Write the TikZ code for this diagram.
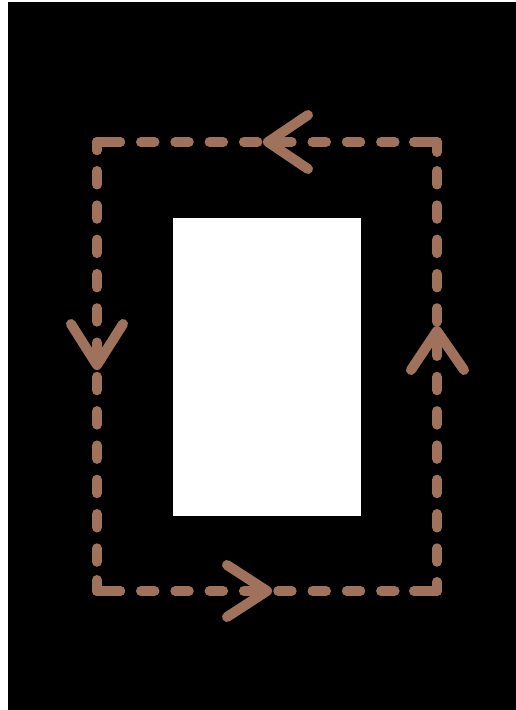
\documentclass[tikz,border=0pt]{standalone}
\definecolor{flow}{RGB}{160,114,92}
\begin{document}
\begin{tikzpicture}[x=1pt,y=-1pt,
  flowline/.style={draw=flow, line width=10pt, line cap=round, line join=round},
  hside/.style={flowline, dash pattern=on 13.5pt off 20.8pt, dash phase=24.6pt},
  vside/.style={flowline, dash pattern=on 13.5pt off 20.8pt, dash phase=5.3pt}]
\useasboundingbox (0,0) rectangle (516,710);
\fill[white] (0,0) rectangle (516,710);
\fill[black] (8,2) rectangle (516,710);
\fill[white] (173,218) rectangle (361,516);
% corners of the loop
\coordinate (TL) at (97,142);
\coordinate (TR) at (437,142);
\coordinate (BR) at (437,591);
\coordinate (BL) at (97,591);
% dashed sides
\draw[hside] (TL) -- (TR);
\draw[hside] (BL) -- (BR);
\draw[vside] (TL) -- (BL);
\draw[vside] (TR) -- (BR);
% corner pieces
\draw[flowline] ([xshift=23pt]TL) -- (TL) -- ([yshift=-8pt]TL);
\draw[flowline] ([xshift=-23pt]TR) -- (TR) -- ([yshift=-10pt]TR);
\draw[flowline] ([xshift=-23pt]BR) -- (BR) -- ([yshift=9pt]BR);
\draw[flowline] ([xshift=23pt]BL) -- (BL) -- ([yshift=11pt]BL);
% arrow heads (open chevrons)
\coordinate (tipT) at (268,142);
\coordinate (tipL) at (97,365);
\coordinate (tipR) at (437,331);
\coordinate (tipB) at (267,591);
\draw[flowline] (308,115) -- (tipT) -- (308,169);
\draw[flowline] (71,324) -- (tipL) -- (123,324);
\draw[flowline] (411,370) -- (tipR) -- (464,370);
\draw[flowline] (227,565) -- (tipB) -- (227,617);
\end{tikzpicture}
\end{document}
